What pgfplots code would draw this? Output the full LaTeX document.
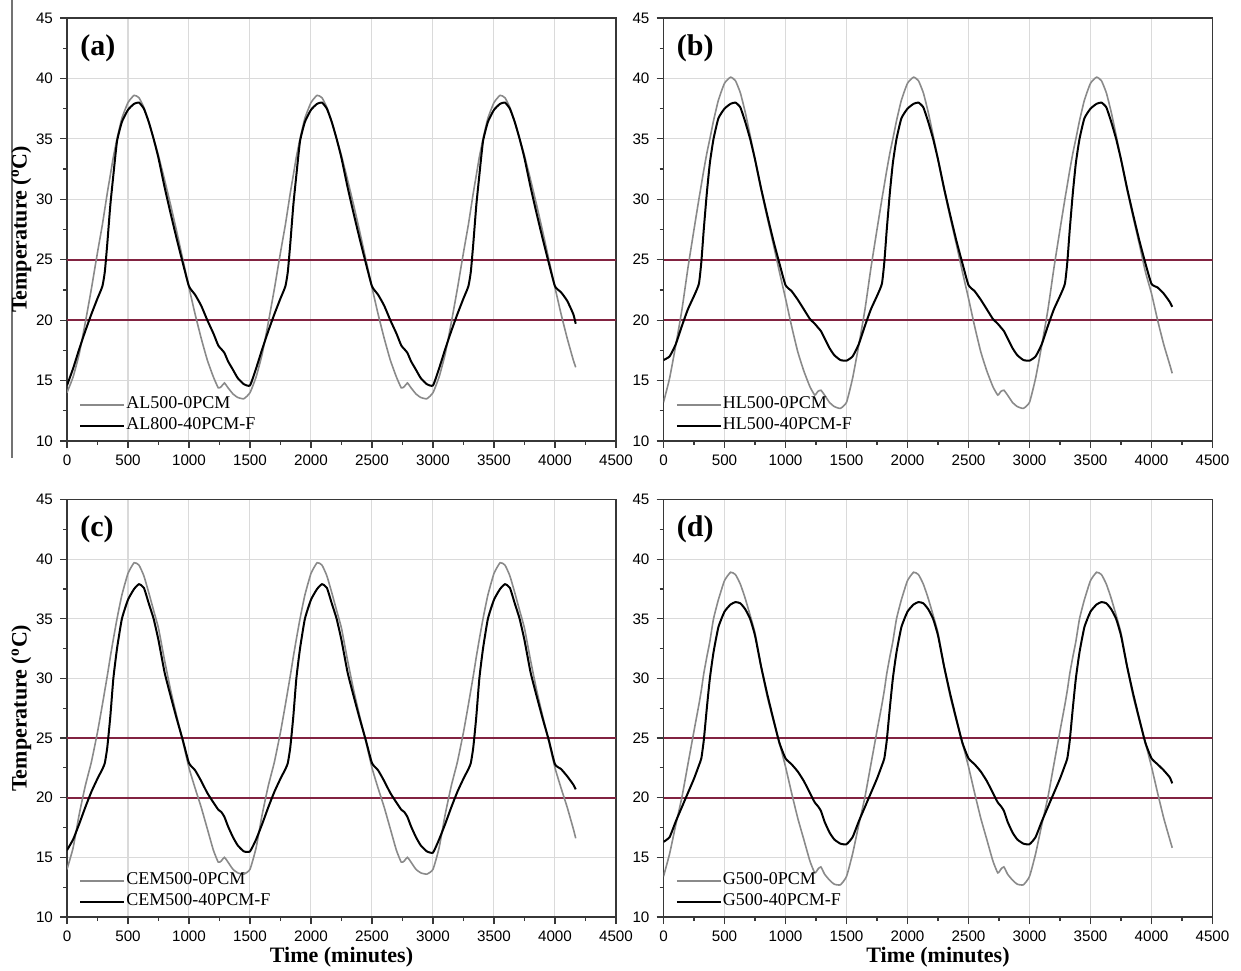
\documentclass[border=0pt]{standalone}
\usepackage{fontspec}
\setmainfont{Liberation Serif}
\newfontfamily\arial{Liberation Sans}
\usepackage{pgfplots}
\usepackage{pgfplotstable}
\pgfplotsset{compat=1.18}
\definecolor{maroon}{RGB}{130,35,65}
\definecolor{curvegray}{RGB}{138,138,138}
\definecolor{gridgray}{RGB}{218,218,218}
\definecolor{axisgray}{RGB}{55,55,55}

\pgfplotstableread{
t g k
0 14.0 14.6
50 15.3 16.0
100 17.2 17.6
150 19.8 19.1
200 22.6 20.5
250 25.6 21.8
290 27.9 22.8
310 29.2 24.0
330 30.5 26.3
355 32.0 29.5
380 33.5 32.0
410 35.0 34.8
450 36.7 36.4
500 38.0 37.4
550 38.6 37.9
590 38.4 38.0
630 37.6 37.5
670 36.4 36.4
710 35.0 35.0
750 33.6 33.4
800 31.6 31.0
850 29.5 28.8
900 27.3 26.7
950 25.0 24.7
1000 22.7 22.8
1050 20.5 22.1
1100 18.5 21.2
1150 16.7 20.0
1200 15.3 18.9
1240 14.4 17.9
1265 14.5 17.6
1290 14.8 17.3
1320 14.4 16.6
1360 13.9 15.9
1400 13.6 15.2
1450 13.5 14.7
1500 14.0 14.6
1550 15.3 16.0
1600 17.2 17.6
1650 19.8 19.1
1700 22.6 20.5
1750 25.6 21.8
1790 27.9 22.8
1810 29.2 24.0
1830 30.5 26.3
1855 32.0 29.5
1880 33.5 32.0
1910 35.0 34.8
1950 36.7 36.4
2000 38.0 37.4
2050 38.6 37.9
2090 38.4 38.0
2130 37.6 37.5
2170 36.4 36.4
2210 35.0 35.0
2250 33.6 33.4
2300 31.6 31.0
2350 29.5 28.8
2400 27.3 26.7
2450 25.0 24.7
2500 22.7 22.8
2550 20.5 22.1
2600 18.5 21.2
2650 16.7 20.0
2700 15.3 18.9
2740 14.4 17.9
2765 14.5 17.6
2790 14.8 17.3
2820 14.4 16.6
2860 13.9 15.9
2900 13.6 15.2
2950 13.5 14.7
3000 14.0 14.6
3050 15.3 16.0
3100 17.2 17.6
3150 19.8 19.1
3200 22.6 20.5
3250 25.6 21.8
3290 27.9 22.8
3310 29.2 24.0
3330 30.5 26.3
3355 32.0 29.5
3380 33.5 32.0
3410 35.0 34.8
3450 36.7 36.4
3500 38.0 37.4
3550 38.6 37.9
3590 38.4 38.0
3630 37.6 37.5
3670 36.4 36.4
3710 35.0 35.0
3750 33.6 33.4
3800 31.6 31.0
3850 29.5 28.8
3900 27.3 26.7
3950 25.0 24.7
4000 22.7 22.8
4050 20.5 22.3
4100 18.5 21.6
4150 16.7 20.5
4170 16.1 19.7
}\dataA

\pgfplotstableread{
t g k
0 13.2 16.7
50 15.2 17.0
100 17.9 18.0
150 20.8 19.5
200 24.3 20.9
250 27.5 22.0
290 30.0 23.0
310 31.2 24.8
330 32.4 27.5
355 33.8 30.5
380 35.0 33.0
410 36.5 35.0
450 38.2 36.7
500 39.6 37.5
550 40.1 37.9
590 39.8 38.0
630 38.8 37.6
670 37.2 36.4
710 35.3 35.0
750 33.3 33.3
800 30.8 30.9
850 28.5 28.7
900 26.3 26.6
950 24.0 24.7
1000 21.8 22.9
1050 19.5 22.4
1100 17.4 21.7
1150 15.8 20.9
1200 14.5 20.1
1240 13.8 19.7
1265 14.1 19.4
1290 14.2 19.1
1320 13.8 18.5
1360 13.2 17.7
1400 12.85 17.1
1450 12.7 16.7
1500 13.2 16.65
1550 15.2 17.0
1600 17.9 18.0
1650 20.8 19.5
1700 24.3 20.9
1750 27.5 22.0
1790 30.0 23.0
1810 31.2 24.8
1830 32.4 27.5
1855 33.8 30.5
1880 35.0 33.0
1910 36.5 35.0
1950 38.2 36.7
2000 39.6 37.5
2050 40.1 37.9
2090 39.8 38.0
2130 38.8 37.6
2170 37.2 36.4
2210 35.3 35.0
2250 33.3 33.3
2300 30.8 30.9
2350 28.5 28.7
2400 26.3 26.6
2450 24.0 24.7
2500 21.8 22.9
2550 19.5 22.4
2600 17.4 21.7
2650 15.8 20.9
2700 14.5 20.1
2740 13.8 19.7
2765 14.1 19.4
2790 14.2 19.1
2820 13.8 18.5
2860 13.2 17.7
2900 12.85 17.1
2950 12.7 16.7
3000 13.2 16.65
3050 15.2 17.0
3100 17.9 18.0
3150 20.8 19.5
3200 24.3 20.9
3250 27.5 22.0
3290 30.0 23.0
3310 31.2 24.8
3330 32.4 27.5
3355 33.8 30.5
3380 35.0 33.0
3410 36.5 35.0
3450 38.2 36.7
3500 39.6 37.5
3550 40.1 37.9
3590 39.8 38.0
3630 38.8 37.6
3670 37.2 36.4
3710 35.3 35.0
3750 33.3 33.3
3800 30.8 30.9
3850 28.5 28.7
3900 26.3 26.6
3950 24.0 24.7
4000 22.2 23.0
4050 20.0 22.7
4100 18.0 22.2
4150 16.3 21.5
4170 15.6 21.1
}\dataB

\pgfplotstableread{
t g k
0 14.0 15.6
50 15.8 16.5
100 18.6 17.8
150 21.0 19.2
200 23.0 20.5
250 25.5 21.6
290 27.8 22.4
310 29.0 22.9
330 30.2 24.2
355 31.8 26.8
380 33.3 30.0
410 35.0 32.5
450 37.0 35.0
500 38.8 36.6
550 39.7 37.5
590 39.5 37.9
630 38.6 37.6
670 37.2 36.3
710 35.7 35.0
750 34.2 33.2
800 31.5 30.5
850 29.0 28.5
900 26.8 26.6
950 24.7 24.8
1000 22.5 22.9
1050 20.8 22.3
1100 19.2 21.4
1150 17.4 20.4
1200 15.6 19.6
1240 14.6 19.0
1265 14.7 18.8
1290 15.0 18.4
1320 14.6 17.6
1360 14.0 16.7
1400 13.7 16.0
1450 13.6 15.5
1500 14.0 15.5
1550 15.8 16.5
1600 18.6 17.8
1650 21.0 19.2
1700 23.0 20.5
1750 25.5 21.6
1790 27.8 22.4
1810 29.0 22.9
1830 30.2 24.2
1855 31.8 26.8
1880 33.3 30.0
1910 35.0 32.5
1950 37.0 35.0
2000 38.8 36.6
2050 39.7 37.5
2090 39.5 37.9
2130 38.6 37.6
2170 37.2 36.3
2210 35.7 35.0
2250 34.2 33.2
2300 31.5 30.5
2350 29.0 28.5
2400 26.8 26.6
2450 24.7 24.8
2500 22.5 22.9
2550 20.8 22.3
2600 19.2 21.4
2650 17.4 20.4
2700 15.6 19.6
2740 14.6 19.0
2765 14.7 18.8
2790 15.0 18.4
2820 14.6 17.6
2860 14.0 16.7
2900 13.7 16.0
2950 13.6 15.5
3000 14.0 15.4
3050 15.8 16.5
3100 18.6 17.8
3150 21.0 19.2
3200 23.0 20.5
3250 25.5 21.6
3290 27.8 22.4
3310 29.0 22.9
3330 30.2 24.2
3355 31.8 26.8
3380 33.3 30.0
3410 35.0 32.5
3450 37.0 35.0
3500 38.8 36.6
3550 39.7 37.5
3590 39.5 37.9
3630 38.6 37.6
3670 37.2 36.3
3710 35.7 35.0
3750 34.2 33.2
3800 31.5 30.5
3850 29.0 28.5
3900 26.8 26.6
3950 24.7 24.8
4000 22.5 22.8
4050 20.8 22.4
4100 19.2 21.8
4150 17.4 21.1
4170 16.6 20.7
}\dataC

\pgfplotstableread{
t g k
0 13.4 16.3
50 15.3 16.7
100 17.7 18.0
150 20.0 19.2
200 22.8 20.4
250 25.6 21.6
290 27.8 22.7
310 29.0 23.3
330 30.4 24.8
355 31.8 27.5
380 33.1 30.0
410 35.0 32.2
450 36.6 34.3
500 38.2 35.6
550 38.9 36.2
590 38.7 36.4
630 37.9 36.3
670 36.7 35.8
710 35.3 35.0
750 33.8 33.6
800 31.0 31.0
850 28.5 28.7
900 26.5 26.6
950 24.6 24.6
1000 22.6 23.3
1050 20.4 22.8
1100 18.3 22.2
1150 16.5 21.4
1200 14.7 20.4
1240 13.7 19.6
1265 14.0 19.3
1290 14.2 18.9
1320 13.6 18.0
1360 13.1 17.1
1400 12.75 16.5
1450 12.7 16.15
1500 13.4 16.1
1550 15.3 16.7
1600 17.7 18.0
1650 20.0 19.2
1700 22.8 20.4
1750 25.6 21.6
1790 27.8 22.7
1810 29.0 23.3
1830 30.4 24.8
1855 31.8 27.5
1880 33.1 30.0
1910 35.0 32.2
1950 36.6 34.3
2000 38.2 35.6
2050 38.9 36.2
2090 38.7 36.4
2130 37.9 36.3
2170 36.7 35.8
2210 35.3 35.0
2250 33.8 33.6
2300 31.0 31.0
2350 28.5 28.7
2400 26.5 26.6
2450 24.6 24.6
2500 22.6 23.3
2550 20.4 22.8
2600 18.3 22.2
2650 16.5 21.4
2700 14.7 20.4
2740 13.7 19.6
2765 14.0 19.3
2790 14.2 18.9
2820 13.6 18.0
2860 13.1 17.1
2900 12.75 16.5
2950 12.7 16.15
3000 13.4 16.1
3050 15.3 16.7
3100 17.7 18.0
3150 20.0 19.2
3200 22.8 20.4
3250 25.6 21.6
3290 27.8 22.7
3310 29.0 23.3
3330 30.4 24.8
3355 31.8 27.5
3380 33.1 30.0
3410 35.0 32.2
3450 36.6 34.3
3500 38.2 35.6
3550 38.9 36.2
3590 38.7 36.4
3630 37.9 36.3
3670 36.7 35.8
3710 35.3 35.0
3750 33.8 33.6
3800 31.0 31.0
3850 28.5 28.7
3900 26.5 26.6
3950 24.6 24.6
4000 22.6 23.3
4050 20.4 22.8
4100 18.3 22.3
4150 16.5 21.7
4170 15.8 21.2
}\dataD

\pgfplotsset{
  panel/.style={
    scale only axis, width=274.5pt, anchor=south west,
    xmin=0, xmax=4500, ymin=10, ymax=45,
    xtick={0,500,...,4500}, ytick={10,15,...,45},
    minor x tick num=1, minor y tick num=1,
    tick align=outside, major tick length=3.5pt, minor tick length=2pt,
    tick pos=left,
    grid=major, major grid style={gridgray, line width=0.5pt},
    axis line style={axisgray, line width=0.7pt},
    every tick/.style={axisgray, line width=0.6pt},
    /pgf/number format/assume math mode=true,
    /pgf/number format/1000 sep={},
    ticklabel style={font=\arial\fontsize{7.6}{8}\selectfont, text=black},
    legend cell align=left,
    legend style={draw=none, fill=none, at={(axis description cs:0,0)}, anchor=south west,
      xshift=6pt, yshift=2pt, font=\fontsize{9}{10}\selectfont, row sep=0pt, inner sep=0pt,
      nodes={inner sep=0.5pt, text height=6.5pt, text depth=3pt}},
    legend image code/.code={\draw[#1] (0pt,0pt) -- (22pt,0pt);},
    y label style={at={(axis description cs:-0.083,0.5)}, anchor=center, font=\fontsize{11}{12}\selectfont\bfseries},
    x label style={at={(axis description cs:0.5,-0.0958)}, anchor=center, font=\fontsize{11}{12}\selectfont\bfseries},
  },
  gcurve/.style={curvegray, line width=0.8pt, smooth, tension=0.3},
  kcurve/.style={black, line width=1pt, smooth, tension=0.3},
  refline/.style={maroon, line width=1pt, forget plot},
}

\begin{document}
\begin{tikzpicture}
\path[use as bounding box] (0,0) rectangle (620.5pt,485pt);
\draw[black!55, line width=0.6pt] (6pt,485pt) -- (6pt,256pt);

\begin{axis}[panel, at={(33.5pt,264.5pt)}, height=211.5pt, ylabel={Temperature (\textsuperscript{o}C)}]
\addplot[refline] coordinates {(0,25) (4500,25)};
\addplot[refline] coordinates {(0,20) (4500,20)};
\addplot[gcurve] table[x=t,y=g]{\dataA};
\addplot[kcurve] table[x=t,y=k]{\dataA};
\legend{AL500-0PCM, AL800-40PCM-F}
\node[anchor=west, inner sep=0pt, font=\fontsize{15}{16}\selectfont\bfseries] at (axis description cs:0.0237,0.929) {(a)};
\end{axis}

\begin{axis}[panel, at={(331.75pt,264.5pt)}, height=211.5pt]
\addplot[refline] coordinates {(0,25) (4500,25)};
\addplot[refline] coordinates {(0,20) (4500,20)};
\addplot[gcurve] table[x=t,y=g]{\dataB};
\addplot[kcurve] table[x=t,y=k]{\dataB};
\legend{HL500-0PCM, HL500-40PCM-F}
\node[anchor=west, inner sep=0pt, font=\fontsize{15}{16}\selectfont\bfseries] at (axis description cs:0.0237,0.929) {(b)};
\end{axis}

\begin{axis}[panel, at={(33.5pt,26.5pt)}, height=208.75pt, ylabel={Temperature (\textsuperscript{o}C)}, xlabel={Time (minutes)}]
\addplot[refline] coordinates {(0,25) (4500,25)};
\addplot[refline] coordinates {(0,20) (4500,20)};
\addplot[gcurve] table[x=t,y=g]{\dataC};
\addplot[kcurve] table[x=t,y=k]{\dataC};
\legend{CEM500-0PCM, CEM500-40PCM-F}
\node[anchor=west, inner sep=0pt, font=\fontsize{15}{16}\selectfont\bfseries] at (axis description cs:0.0237,0.928) {(c)};
\end{axis}

\begin{axis}[panel, at={(331.75pt,26.5pt)}, height=208.75pt, xlabel={Time (minutes)}]
\addplot[refline] coordinates {(0,25) (4500,25)};
\addplot[refline] coordinates {(0,20) (4500,20)};
\addplot[gcurve] table[x=t,y=g]{\dataD};
\addplot[kcurve] table[x=t,y=k]{\dataD};
\legend{G500-0PCM, G500-40PCM-F}
\node[anchor=west, inner sep=0pt, font=\fontsize{15}{16}\selectfont\bfseries] at (axis description cs:0.0237,0.928) {(d)};
\end{axis}
\end{tikzpicture}
\end{document}
